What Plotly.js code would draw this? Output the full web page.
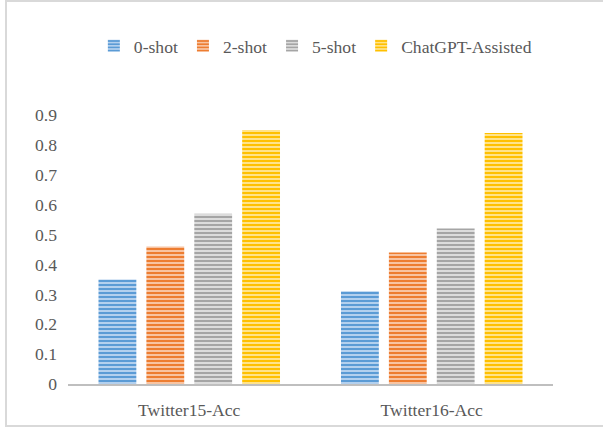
<!DOCTYPE html>
<html>
<head>
<meta charset="utf-8">
<script src="https://cdn.plot.ly/plotly-3.0.1.min.js"></script>
<style>
  html, body { margin: 0; padding: 0; background: #fff; }
  #wrap { position: relative; width: 603px; height: 428px; }
  #frame { position: absolute; left: 5px; top: 0; width: 598px; height: 427px; box-sizing: border-box;
           border-left: 2px solid #d9d9d9; border-top: 2px solid #d9d9d9; border-bottom: 2px solid #d9d9d9; pointer-events: none; }
  #chart { position: absolute; left: 0; top: 0; width: 603px; height: 428px; }
</style>
</head>
<body>
<div id="wrap">
  <div id="chart"></div>
  <div id="frame"></div>
</div>
<script>
const categories = ["Twitter15-Acc", "Twitter16-Acc"];
const seriesNames = ["0-shot", "2-shot", "5-shot", "ChatGPT-Assisted"];
const shot0 = [0.35, 0.31];
const shot2 = [0.46, 0.44];
const shot5 = [0.57, 0.52];
const chatgpt = [0.85, 0.84];
const yTicks = [0, 0.1, 0.2, 0.3, 0.4, 0.5, 0.6, 0.7, 0.8, 0.9];
const yTickText = ["0", "0.1", "0.2", "0.3", "0.4", "0.5", "0.6", "0.7", "0.8", "0.9"];

const seriesValues = [shot0, shot2, shot5, chatgpt];
const mainColors = ["#5b9bd5", "#ed7d31", "#a5a5a5", "#ffc000"];
const lightColors = ["#b3d0ee", "#f8c4a2", "#dcdcdc", "#ffe38a"];

const font = { family: "Liberation Serif, Times New Roman, serif", size: 17.6, color: "#595959" };

const traces = seriesNames.map((name, i) => ({
  type: "bar",
  name: name,
  x: categories,
  y: seriesValues[i],
  marker: {
    color: lightColors[i],
    line: { width: 0 },
    pattern: { shape: "-", fgcolor: mainColors[i], bgcolor: lightColors[i], size: 4, solidity: 0.5, fillmode: "replace" }
  },
  hoverinfo: "x+y+name"
}));

const layout = {
  width: 603, height: 428,
  margin: { l: 68, r: 50, t: 115, b: 44, pad: 0 },
  paper_bgcolor: "#ffffff",
  plot_bgcolor: "#ffffff",
  font: font,
  barmode: "group",
  bargap: 0.21,
  bargroupgap: 0.21,
  showlegend: true,
  legend: {
    orientation: "h", x: 0.51, xanchor: "center", y: 1.257, yanchor: "middle",
    font: font, itemwidth: 30, traceorder: "normal", bgcolor: "rgba(0,0,0,0)"
  },
  xaxis: {
    type: "category",
    showline: true, linecolor: "#bfbfbf", linewidth: 2,
    showgrid: false, zeroline: false, ticks: "",
    ticklabelstandoff: 9,
    tickfont: font
  },
  yaxis: {
    range: [0, 0.9],
    tickvals: yTicks, ticktext: yTickText,
    showgrid: false, zeroline: false, showline: false, ticks: "",
    ticklabelstandoff: 10,
    tickfont: font
  }
};

Plotly.newPlot("chart", traces, layout, { displayModeBar: false, staticPlot: true });
</script>
</body>
</html>
